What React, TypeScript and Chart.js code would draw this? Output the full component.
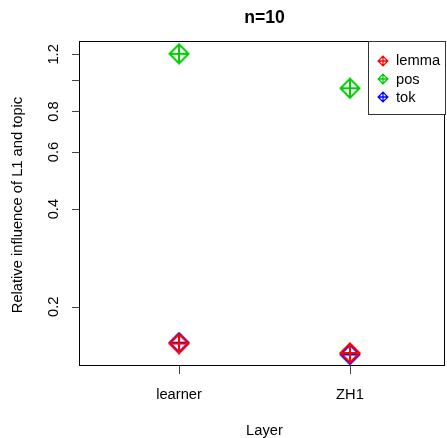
import React, { useEffect, useRef } from "react";
import { Chart, registerables } from "chart.js";

Chart.register(...registerables);

const categories = ["learner", "ZH1"];
const seriesNames = ["lemma", "pos", "tok"];
const lemmaValues = [0.154, 0.144];
const posValues = [1.205, 0.943];
const tokValues = [0.155, 0.1425];
const seriesColors = ["#FF0000", "#00CD00", "#0000FF"];
const yTickValues = [0.2, 0.4, 0.6, 0.8, 1.0, 1.2];
const yTickLabels = ["0.2", "0.4", "0.6", "0.8", "", "1.2"];
const chartTitle = "n=10";
const xAxisTitle = "Layer";
const yAxisTitle = "Relative influence of L1 and topic";

const FONT = "'Liberation Sans', Arial, Helvetica, sans-serif";
const BASE = 14.7;

function makeMarker(color: string, size: number, lw: number) {
  const c = document.createElement("canvas");
  c.width = size;
  c.height = size;
  const ctx = c.getContext("2d")!;
  const h = size / 2;
  const r = h - lw / 2 - 0.5;
  ctx.strokeStyle = color;
  ctx.lineWidth = lw;
  ctx.beginPath();
  ctx.moveTo(h, h - r);
  ctx.lineTo(h + r, h);
  ctx.lineTo(h, h + r);
  ctx.lineTo(h - r, h);
  ctx.closePath();
  ctx.moveTo(h, h - r);
  ctx.lineTo(h, h + r);
  ctx.moveTo(h - r, h);
  ctx.lineTo(h + r, h);
  ctx.stroke();
  return c;
}

function rotatedText(ctx: CanvasRenderingContext2D, text: string, x: number, y: number) {
  ctx.save();
  ctx.translate(x, y);
  ctx.rotate(-Math.PI / 2);
  ctx.textAlign = "center";
  ctx.textBaseline = "alphabetic";
  ctx.fillText(text, 0, 0);
  ctx.restore();
}

export default function App() {
  const ref = useRef<HTMLCanvasElement | null>(null);

  useEffect(() => {
    const canvas = ref.current;
    if (!canvas) return;
    const allSeries = [lemmaValues, posValues, tokValues];
    const markers = seriesColors.map((c) => makeMarker(c, 22, 2));
    const legendMarkers = seriesColors.map((c) => makeMarker(c, 12, 1.3));

    const decor = {
      id: "rdecor",
      afterDraw(chart: any) {
        const ctx = chart.ctx as CanvasRenderingContext2D;
        const { left, right, top, bottom } = chart.chartArea;
        const xs = chart.scales.x;
        const ys = chart.scales.y;
        const L = Math.round(left), R = Math.round(right), T = Math.round(top), B = Math.round(bottom);
        ctx.save();
        ctx.strokeStyle = "#000";
        ctx.lineWidth = 1;
        ctx.strokeRect(L + 0.5, T - 0.5, R - L - 1, B - T);
        ctx.strokeStyle = "#444";
        ctx.fillStyle = "#000";
        ctx.font = `${BASE}px ${FONT}`;
        yTickValues.forEach((v, i) => {
          const py = Math.round(ys.getPixelForValue(v)) + 0.5;
          ctx.beginPath();
          ctx.moveTo(L + 0.5, py);
          ctx.lineTo(L - 7, py);
          ctx.stroke();
          const lab = yTickLabels[i];
          if (lab) rotatedText(ctx, lab, 57.5, ys.getPixelForValue(v));
        });
        ctx.textAlign = "center";
        ctx.textBaseline = "alphabetic";
        categories.forEach((c, i) => {
          const px = Math.round(xs.getPixelForValue(i + 1)) + 0.5;
          ctx.beginPath();
          ctx.moveTo(px, B - 0.5);
          ctx.lineTo(px, B + 8);
          ctx.stroke();
          ctx.fillText(c, xs.getPixelForValue(i + 1), 399);
        });
        const cx = xs.getPixelForValue(1.5);
        ctx.fillText(xAxisTitle, cx, 435);
        rotatedText(ctx, yAxisTitle, 21.5, (top + bottom) / 2 + 1);
        ctx.font = `bold ${BASE * 1.2}px ${FONT}`;
        ctx.textAlign = "center";
        ctx.fillText(chartTitle, cx, 22.7);
        // legend
        const lx0 = 368.5, lx1 = 445.5, ly0 = 41.5, ly1 = 114.5;
        ctx.fillStyle = "#fff";
        ctx.fillRect(lx0, ly0, lx1 - lx0, ly1 - ly0);
        ctx.strokeStyle = "#333";
        ctx.strokeRect(lx0, ly0, lx1 - lx0, ly1 - ly0);
        ctx.font = `${BASE}px ${FONT}`;
        ctx.fillStyle = "#000";
        ctx.textAlign = "left";
        ctx.textBaseline = "middle";
        seriesNames.forEach((n, i) => {
          const iy = 60.7 + i * 18.3;
          ctx.drawImage(legendMarkers[i], Math.round(382.7 - 6), Math.round(iy - 6));
          ctx.fillText(n, 396, iy + 0.5);
        });
        ctx.restore();
      },
    };

    const chart = new Chart(canvas, {
      type: "scatter",
      data: {
        datasets: seriesNames.map((name, si) => ({
          label: name,
          data: allSeries[si].map((v, i) => ({ x: i + 1, y: v })),
          pointStyle: markers[si] as any,
          pointRadius: 11,
          pointHoverRadius: 11,
          borderColor: seriesColors[si],
          backgroundColor: seriesColors[si],
          clip: false as any,
        })),
      },
      options: {
        animation: false,
        responsive: false,
        devicePixelRatio: 1,
        events: [],
        layout: { autoPadding: false, padding: { left: 79, right: 2, top: 42, bottom: 72 } },
        plugins: { legend: { display: false }, tooltip: { enabled: false }, title: { display: false } },
        scales: {
          x: { type: "linear", min: 0.415, max: 2.556, display: false },
          y: { type: "logarithmic", min: 0.1313, max: 1.31, display: false },
        },
      },
      plugins: [decor],
    });
    return () => chart.destroy();
  }, []);

  return (
    <div style={{ position: "absolute", left: 0, top: 0, width: 447, height: 438, background: "#fff" }}>
      <canvas ref={ref} width={447} height={438} style={{ display: "block", width: 447, height: 438 }} />
    </div>
  );
}
